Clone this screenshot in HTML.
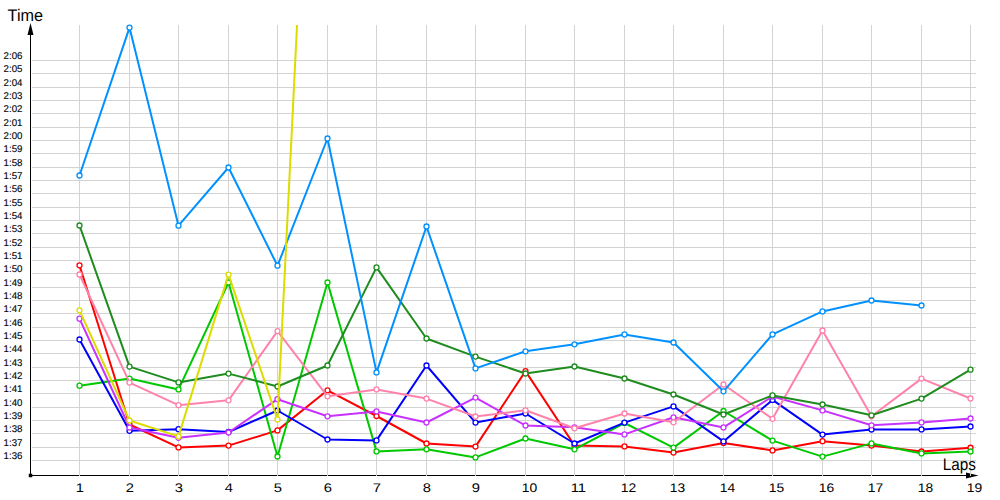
<!DOCTYPE html>
<html><head><meta charset="utf-8"><title>Lap times</title>
<style>
html,body{margin:0;padding:0;background:#fff;}
body{width:1000px;height:500px;overflow:hidden;}
svg{display:block;}
text{font-family:"Liberation Sans",sans-serif;fill:#000;text-rendering:geometricPrecision;}
</style></head><body>
<svg width="1000" height="500" viewBox="0 0 1000 500">
<rect x="0" y="0" width="1000" height="500" fill="#fff"/>
<defs><clipPath id="plot"><rect x="31" y="25" width="960" height="450"/></clipPath></defs>
<g fill="#d3d3d3"><rect x="32" y="60" width="944" height="1"/><rect x="32" y="73" width="944" height="1"/><rect x="32" y="87" width="944" height="1"/><rect x="32" y="100" width="944" height="1"/><rect x="32" y="113" width="944" height="1"/><rect x="32" y="127" width="944" height="1"/><rect x="32" y="140" width="944" height="1"/><rect x="32" y="153" width="944" height="1"/><rect x="32" y="167" width="944" height="1"/><rect x="32" y="180" width="944" height="1"/><rect x="32" y="193" width="944" height="1"/><rect x="32" y="207" width="944" height="1"/><rect x="32" y="220" width="944" height="1"/><rect x="32" y="233" width="944" height="1"/><rect x="32" y="247" width="944" height="1"/><rect x="32" y="260" width="944" height="1"/><rect x="32" y="273" width="944" height="1"/><rect x="32" y="287" width="944" height="1"/><rect x="32" y="300" width="944" height="1"/><rect x="32" y="313" width="944" height="1"/><rect x="32" y="327" width="944" height="1"/><rect x="32" y="340" width="944" height="1"/><rect x="32" y="353" width="944" height="1"/><rect x="32" y="367" width="944" height="1"/><rect x="32" y="380" width="944" height="1"/><rect x="32" y="393" width="944" height="1"/><rect x="32" y="407" width="944" height="1"/><rect x="32" y="420" width="944" height="1"/><rect x="32" y="433" width="944" height="1"/><rect x="32" y="447" width="944" height="1"/><rect x="32" y="460" width="944" height="1"/></g>
<g fill="#000"><rect x="30" y="33" width="1" height="443"/><rect x="30" y="475" width="938" height="1"/><rect x="28.75" y="473.75" width="3.5" height="3.5"/><path d="M30.5 23 L33.5 35 L27.5 35 Z"/><path d="M978.5 475.5 L966 472.5 L966 478.5 Z"/></g>
<g fill="#d3d3d3"><rect x="79" y="25" width="1" height="451"/><rect x="129" y="25" width="1" height="451"/><rect x="178" y="25" width="1" height="451"/><rect x="228" y="25" width="1" height="451"/><rect x="277" y="25" width="1" height="451"/><rect x="327" y="25" width="1" height="451"/><rect x="376" y="25" width="1" height="451"/><rect x="426" y="25" width="1" height="451"/><rect x="475" y="25" width="1" height="451"/><rect x="525" y="25" width="1" height="451"/><rect x="574" y="25" width="1" height="451"/><rect x="624" y="25" width="1" height="451"/><rect x="673" y="25" width="1" height="451"/><rect x="723" y="25" width="1" height="451"/><rect x="772" y="25" width="1" height="451"/><rect x="822" y="25" width="1" height="451"/><rect x="871" y="25" width="1" height="451"/><rect x="921" y="25" width="1" height="451"/><rect x="970" y="25" width="1" height="451"/></g>
<g font-size="9.8" stroke="#000" stroke-width="0.12"><text transform="matrix(0.99 0 0 1 3.6 59)">2:06</text><text transform="matrix(0.99 0 0 1 3.6 72)">2:05</text><text transform="matrix(0.99 0 0 1 3.6 86)">2:04</text><text transform="matrix(0.99 0 0 1 3.6 99)">2:03</text><text transform="matrix(0.99 0 0 1 3.6 112)">2:02</text><text transform="matrix(0.99 0 0 1 3.6 126)">2:01</text><text transform="matrix(0.99 0 0 1 3.6 139)">2:00</text><text transform="matrix(0.99 0 0 1 3.6 152)">1:59</text><text transform="matrix(0.99 0 0 1 3.6 166)">1:58</text><text transform="matrix(0.99 0 0 1 3.6 179)">1:57</text><text transform="matrix(0.99 0 0 1 3.6 192)">1:56</text><text transform="matrix(0.99 0 0 1 3.6 206)">1:55</text><text transform="matrix(0.99 0 0 1 3.6 219)">1:54</text><text transform="matrix(0.99 0 0 1 3.6 232)">1:53</text><text transform="matrix(0.99 0 0 1 3.6 246)">1:52</text><text transform="matrix(0.99 0 0 1 3.6 259)">1:51</text><text transform="matrix(0.99 0 0 1 3.6 272)">1:50</text><text transform="matrix(0.99 0 0 1 3.6 286)">1:49</text><text transform="matrix(0.99 0 0 1 3.6 299)">1:48</text><text transform="matrix(0.99 0 0 1 3.6 312)">1:47</text><text transform="matrix(0.99 0 0 1 3.6 326)">1:46</text><text transform="matrix(0.99 0 0 1 3.6 339)">1:45</text><text transform="matrix(0.99 0 0 1 3.6 352)">1:44</text><text transform="matrix(0.99 0 0 1 3.6 366)">1:43</text><text transform="matrix(0.99 0 0 1 3.6 379)">1:42</text><text transform="matrix(0.99 0 0 1 3.6 392)">1:41</text><text transform="matrix(0.99 0 0 1 3.6 406)">1:40</text><text transform="matrix(0.99 0 0 1 3.6 419)">1:39</text><text transform="matrix(0.99 0 0 1 3.6 432)">1:38</text><text transform="matrix(0.99 0 0 1 3.6 446)">1:37</text><text transform="matrix(0.99 0 0 1 3.6 459)">1:36</text></g>
<g font-size="12.5"><text x="75.7" y="492" textLength="8.2" lengthAdjust="spacingAndGlyphs">1</text><text x="125.7" y="492" textLength="8.2" lengthAdjust="spacingAndGlyphs">2</text><text x="174.7" y="492" textLength="8.2" lengthAdjust="spacingAndGlyphs">3</text><text x="224.7" y="492" textLength="8.2" lengthAdjust="spacingAndGlyphs">4</text><text x="273.7" y="492" textLength="8.2" lengthAdjust="spacingAndGlyphs">5</text><text x="323.7" y="492" textLength="8.2" lengthAdjust="spacingAndGlyphs">6</text><text x="372.7" y="492" textLength="8.2" lengthAdjust="spacingAndGlyphs">7</text><text x="422.7" y="492" textLength="8.2" lengthAdjust="spacingAndGlyphs">8</text><text x="471.7" y="492" textLength="8.2" lengthAdjust="spacingAndGlyphs">9</text><text x="521.7" y="492" textLength="15.4" lengthAdjust="spacingAndGlyphs">10</text><text x="570.7" y="492" textLength="15.4" lengthAdjust="spacingAndGlyphs">11</text><text x="620.7" y="492" textLength="15.4" lengthAdjust="spacingAndGlyphs">12</text><text x="669.7" y="492" textLength="15.4" lengthAdjust="spacingAndGlyphs">13</text><text x="719.7" y="492" textLength="15.4" lengthAdjust="spacingAndGlyphs">14</text><text x="768.7" y="492" textLength="15.4" lengthAdjust="spacingAndGlyphs">15</text><text x="818.7" y="492" textLength="15.4" lengthAdjust="spacingAndGlyphs">16</text><text x="867.7" y="492" textLength="15.4" lengthAdjust="spacingAndGlyphs">17</text><text x="917.7" y="492" textLength="15.4" lengthAdjust="spacingAndGlyphs">18</text><text x="966.7" y="492" textLength="15.4" lengthAdjust="spacingAndGlyphs">19</text></g>
<text x="7.6" y="21" font-size="16.8" textLength="35.4" lengthAdjust="spacingAndGlyphs">Time</text>
<text x="942.8" y="470" font-size="16.8" textLength="33.2" lengthAdjust="spacingAndGlyphs">Laps</text>
<g>
<polyline clip-path="url(#plot)" points="79.5,265.3 129.5,424.5 178.5,447.4 228.5,445.6 277.5,430.4 327.5,390.3 376.5,416 426.5,443.5 475.5,446.6 525.5,371.1 574.5,445.5 624.5,446.4 673.5,452.6 723.5,443 772.5,450.4 822.5,441.2 871.5,445.6 921.5,451.5 970.5,447.75" fill="none" stroke="#ff0000" stroke-width="2.0" stroke-linejoin="round"/><g fill="#fff" stroke="#ff0000" stroke-width="1.3"><circle cx="79.5" cy="265.3" r="2.5"/><circle cx="129.5" cy="424.5" r="2.5"/><circle cx="178.5" cy="447.4" r="2.5"/><circle cx="228.5" cy="445.6" r="2.5"/><circle cx="277.5" cy="430.4" r="2.5"/><circle cx="327.5" cy="390.3" r="2.5"/><circle cx="376.5" cy="416" r="2.5"/><circle cx="426.5" cy="443.5" r="2.5"/><circle cx="475.5" cy="446.6" r="2.5"/><circle cx="525.5" cy="371.1" r="2.5"/><circle cx="574.5" cy="445.5" r="2.5"/><circle cx="624.5" cy="446.4" r="2.5"/><circle cx="673.5" cy="452.6" r="2.5"/><circle cx="723.5" cy="443" r="2.5"/><circle cx="772.5" cy="450.4" r="2.5"/><circle cx="822.5" cy="441.2" r="2.5"/><circle cx="871.5" cy="445.6" r="2.5"/><circle cx="921.5" cy="451.5" r="2.5"/><circle cx="970.5" cy="447.75" r="2.5"/></g>
<polyline clip-path="url(#plot)" points="79.5,385.7 129.5,378.6 178.5,389.4 228.5,282.5 277.5,456.5 327.5,282.5 376.5,451.4 426.5,449.3 475.5,457.4 525.5,438.5 574.5,449.3 624.5,423 673.5,447.6 723.5,411 772.5,440.6 822.5,456.6 871.5,443.4 921.5,453.4 970.5,451.5" fill="none" stroke="#00c800" stroke-width="2.0" stroke-linejoin="round"/><g fill="#fff" stroke="#00c800" stroke-width="1.3"><circle cx="79.5" cy="385.7" r="2.5"/><circle cx="129.5" cy="378.6" r="2.5"/><circle cx="178.5" cy="389.4" r="2.5"/><circle cx="228.5" cy="282.5" r="2.5"/><circle cx="277.5" cy="456.5" r="2.5"/><circle cx="327.5" cy="282.5" r="2.5"/><circle cx="376.5" cy="451.4" r="2.5"/><circle cx="426.5" cy="449.3" r="2.5"/><circle cx="475.5" cy="457.4" r="2.5"/><circle cx="525.5" cy="438.5" r="2.5"/><circle cx="574.5" cy="449.3" r="2.5"/><circle cx="624.5" cy="423" r="2.5"/><circle cx="673.5" cy="447.6" r="2.5"/><circle cx="723.5" cy="411" r="2.5"/><circle cx="772.5" cy="440.6" r="2.5"/><circle cx="822.5" cy="456.6" r="2.5"/><circle cx="871.5" cy="443.4" r="2.5"/><circle cx="921.5" cy="453.4" r="2.5"/><circle cx="970.5" cy="451.5" r="2.5"/></g>
<polyline clip-path="url(#plot)" points="79.5,339.5 129.5,430.8 178.5,429.2 228.5,432 277.5,410.5 327.5,439.5 376.5,440.4 426.5,365.5 475.5,422.6 525.5,413.5 574.5,443.5 624.5,422.6 673.5,406.4 723.5,441.4 772.5,399.9 822.5,434.6 871.5,429.5 921.5,429.4 970.5,426.5" fill="none" stroke="#0000ff" stroke-width="2.0" stroke-linejoin="round"/><g fill="#fff" stroke="#0000ff" stroke-width="1.3"><circle cx="79.5" cy="339.5" r="2.5"/><circle cx="129.5" cy="430.8" r="2.5"/><circle cx="178.5" cy="429.2" r="2.5"/><circle cx="228.5" cy="432" r="2.5"/><circle cx="277.5" cy="410.5" r="2.5"/><circle cx="327.5" cy="439.5" r="2.5"/><circle cx="376.5" cy="440.4" r="2.5"/><circle cx="426.5" cy="365.5" r="2.5"/><circle cx="475.5" cy="422.6" r="2.5"/><circle cx="525.5" cy="413.5" r="2.5"/><circle cx="574.5" cy="443.5" r="2.5"/><circle cx="624.5" cy="422.6" r="2.5"/><circle cx="673.5" cy="406.4" r="2.5"/><circle cx="723.5" cy="441.4" r="2.5"/><circle cx="772.5" cy="399.9" r="2.5"/><circle cx="822.5" cy="434.6" r="2.5"/><circle cx="871.5" cy="429.5" r="2.5"/><circle cx="921.5" cy="429.4" r="2.5"/><circle cx="970.5" cy="426.5" r="2.5"/></g>
<polyline clip-path="url(#plot)" points="79.5,318.7 129.5,427.5 178.5,437.8 228.5,432.5 277.5,399.2 327.5,416.3 376.5,411.4 426.5,422.5 475.5,397.6 525.5,425.5 574.5,427.3 624.5,434.4 673.5,417.3 723.5,427.4 772.5,396.5 822.5,410.4 871.5,425.3 921.5,422.4 970.5,418.5" fill="none" stroke="#c832ff" stroke-width="2.0" stroke-linejoin="round"/><g fill="#fff" stroke="#c832ff" stroke-width="1.3"><circle cx="79.5" cy="318.7" r="2.5"/><circle cx="129.5" cy="427.5" r="2.5"/><circle cx="178.5" cy="437.8" r="2.5"/><circle cx="228.5" cy="432.5" r="2.5"/><circle cx="277.5" cy="399.2" r="2.5"/><circle cx="327.5" cy="416.3" r="2.5"/><circle cx="376.5" cy="411.4" r="2.5"/><circle cx="426.5" cy="422.5" r="2.5"/><circle cx="475.5" cy="397.6" r="2.5"/><circle cx="525.5" cy="425.5" r="2.5"/><circle cx="574.5" cy="427.3" r="2.5"/><circle cx="624.5" cy="434.4" r="2.5"/><circle cx="673.5" cy="417.3" r="2.5"/><circle cx="723.5" cy="427.4" r="2.5"/><circle cx="772.5" cy="396.5" r="2.5"/><circle cx="822.5" cy="410.4" r="2.5"/><circle cx="871.5" cy="425.3" r="2.5"/><circle cx="921.5" cy="422.4" r="2.5"/><circle cx="970.5" cy="418.5" r="2.5"/></g>
<polyline clip-path="url(#plot)" points="79.5,274.5 129.5,382.6 178.5,405.2 228.5,400.3 277.5,331.1 327.5,396.3 376.5,389.4 426.5,398.6 475.5,416.5 525.5,410.3 574.5,428.3 624.5,413.5 673.5,422.3 723.5,384.5 772.5,418.8 822.5,330.5 871.5,416.3 921.5,378.6 970.5,398.5" fill="none" stroke="#ff82aa" stroke-width="2.0" stroke-linejoin="round"/><g fill="#fff" stroke="#ff82aa" stroke-width="1.3"><circle cx="79.5" cy="274.5" r="2.5"/><circle cx="129.5" cy="382.6" r="2.5"/><circle cx="178.5" cy="405.2" r="2.5"/><circle cx="228.5" cy="400.3" r="2.5"/><circle cx="277.5" cy="331.1" r="2.5"/><circle cx="327.5" cy="396.3" r="2.5"/><circle cx="376.5" cy="389.4" r="2.5"/><circle cx="426.5" cy="398.6" r="2.5"/><circle cx="475.5" cy="416.5" r="2.5"/><circle cx="525.5" cy="410.3" r="2.5"/><circle cx="574.5" cy="428.3" r="2.5"/><circle cx="624.5" cy="413.5" r="2.5"/><circle cx="673.5" cy="422.3" r="2.5"/><circle cx="723.5" cy="384.5" r="2.5"/><circle cx="772.5" cy="418.8" r="2.5"/><circle cx="822.5" cy="330.5" r="2.5"/><circle cx="871.5" cy="416.3" r="2.5"/><circle cx="921.5" cy="378.6" r="2.5"/><circle cx="970.5" cy="398.5" r="2.5"/></g>
<polyline clip-path="url(#plot)" points="79.5,225.5 129.5,366.6 178.5,382.4 228.5,373.6 277.5,386.5 327.5,365.5 376.5,267.4 426.5,338.5 475.5,356.6 525.5,373.5 574.5,366.5 624.5,378.5 673.5,394.5 723.5,414.5 772.5,395.4 822.5,404.5 871.5,415.3 921.5,398.6 970.5,369.7" fill="none" stroke="#1e8c1e" stroke-width="2.0" stroke-linejoin="round"/><g fill="#fff" stroke="#1e8c1e" stroke-width="1.3"><circle cx="79.5" cy="225.5" r="2.5"/><circle cx="129.5" cy="366.6" r="2.5"/><circle cx="178.5" cy="382.4" r="2.5"/><circle cx="228.5" cy="373.6" r="2.5"/><circle cx="277.5" cy="386.5" r="2.5"/><circle cx="327.5" cy="365.5" r="2.5"/><circle cx="376.5" cy="267.4" r="2.5"/><circle cx="426.5" cy="338.5" r="2.5"/><circle cx="475.5" cy="356.6" r="2.5"/><circle cx="525.5" cy="373.5" r="2.5"/><circle cx="574.5" cy="366.5" r="2.5"/><circle cx="624.5" cy="378.5" r="2.5"/><circle cx="673.5" cy="394.5" r="2.5"/><circle cx="723.5" cy="414.5" r="2.5"/><circle cx="772.5" cy="395.4" r="2.5"/><circle cx="822.5" cy="404.5" r="2.5"/><circle cx="871.5" cy="415.3" r="2.5"/><circle cx="921.5" cy="398.6" r="2.5"/><circle cx="970.5" cy="369.7" r="2.5"/></g>
<polyline clip-path="url(#plot)" points="79.5,175.5 129.5,27.6 178.5,225.7 228.5,167.5 277.5,265.7 327.5,138.5 376.5,372.4 426.5,226.5 475.5,368.4 525.5,351.3 574.5,344.3 624.5,334.4 673.5,342.5 723.5,391.3 772.5,334.4 822.5,311.4 871.5,300.5 921.5,305.5" fill="none" stroke="#0091ff" stroke-width="2.0" stroke-linejoin="round"/><g fill="#fff" stroke="#0091ff" stroke-width="1.3"><circle cx="79.5" cy="175.5" r="2.5"/><circle cx="129.5" cy="27.6" r="2.5"/><circle cx="178.5" cy="225.7" r="2.5"/><circle cx="228.5" cy="167.5" r="2.5"/><circle cx="277.5" cy="265.7" r="2.5"/><circle cx="327.5" cy="138.5" r="2.5"/><circle cx="376.5" cy="372.4" r="2.5"/><circle cx="426.5" cy="226.5" r="2.5"/><circle cx="475.5" cy="368.4" r="2.5"/><circle cx="525.5" cy="351.3" r="2.5"/><circle cx="574.5" cy="344.3" r="2.5"/><circle cx="624.5" cy="334.4" r="2.5"/><circle cx="673.5" cy="342.5" r="2.5"/><circle cx="723.5" cy="391.3" r="2.5"/><circle cx="772.5" cy="334.4" r="2.5"/><circle cx="822.5" cy="311.4" r="2.5"/><circle cx="871.5" cy="300.5" r="2.5"/><circle cx="921.5" cy="305.5" r="2.5"/></g>
<polyline clip-path="url(#plot)" points="79.5,310.3 129.5,420.5 178.5,436.4 228.5,274.6 277.5,419.4 327.5,-590" fill="none" stroke="#dcdc00" stroke-width="2.0" stroke-linejoin="round"/><g fill="#fff" stroke="#dcdc00" stroke-width="1.3"><circle cx="79.5" cy="310.3" r="2.5"/><circle cx="129.5" cy="420.5" r="2.5"/><circle cx="178.5" cy="436.4" r="2.5"/><circle cx="228.5" cy="274.6" r="2.5"/><circle cx="277.5" cy="419.4" r="2.5"/></g>
</g>
</svg>
</body></html>
